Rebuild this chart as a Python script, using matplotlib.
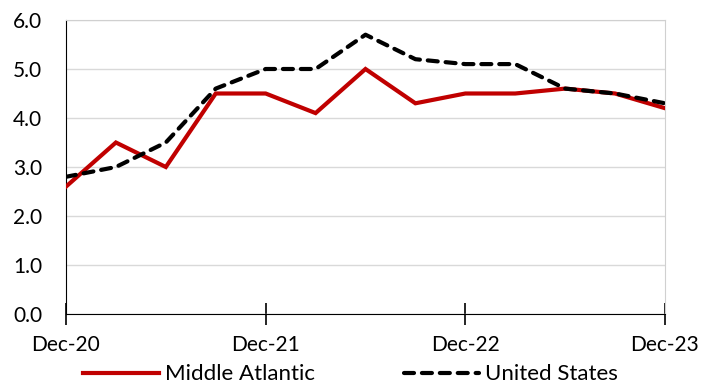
import matplotlib.pyplot as plt
import numpy as np

plt.rcParams['font.family'] = ['Lato', 'DejaVu Sans']

quarters = ["Dec-20", "Mar-21", "Jun-21", "Sep-21", "Dec-21", "Mar-22", "Jun-22",
            "Sep-22", "Dec-22", "Mar-23", "Jun-23", "Sep-23", "Dec-23"]
middle_atlantic = [2.6, 3.5, 3.0, 4.5, 4.5, 4.1, 5.0, 4.3, 4.5, 4.5, 4.6, 4.5, 4.2]
united_states = [2.8, 3.0, 3.5, 4.6, 5.0, 5.0, 5.7, 5.2, 5.1, 5.1, 4.6, 4.5, 4.3]
tick_labels = ["Dec-20", "Dec-21", "Dec-22", "Dec-23"]

x = np.arange(len(quarters))

fig = plt.figure(figsize=(7.11, 3.86), dpi=100)
ax = fig.add_axes([0.0928, 0.1865, 0.8425, 0.7617])

ax.plot(x, middle_atlantic, color="#C00000", lw=3.0, label="Middle Atlantic",
        solid_joinstyle="miter", zorder=3)
ax.plot(x, united_states, color="black", lw=3.0, ls=(0, (2.4, 1.9)),
        dash_capstyle="round", label="United States", zorder=4)

ax.set_xlim(0, 12)
ax.set_ylim(0, 6)
yt = np.arange(0, 6.1, 1.0)
ax.set_yticks(yt)
ax.set_yticklabels([f"{v:.1f}" for v in yt])
ax.set_xticks([0, 4, 8, 12])
ax.set_xticklabels(tick_labels)

ax.grid(axis="y", color="#d9d9d9", lw=1)
ax.set_axisbelow(True)

for side in ["top", "right"]:
    ax.spines[side].set_color("#d0d0d0")
ax.spines["left"].set_color("black")
ax.spines["bottom"].set_color("black")
ax.spines["bottom"].set_zorder(5)

ax.tick_params(axis="x", direction="inout", length=16, width=1.2, labelsize=15,
               pad=7, colors="black")
ax.tick_params(axis="y", length=0, labelsize=15, pad=17)

fig.legend(loc="center", bbox_to_anchor=(0.493, 0.03), ncol=2, frameon=False,
           fontsize=16, handlelength=3.4, columnspacing=4.0, handletextpad=0.27)

fig.savefig("out.png", dpi=100)
